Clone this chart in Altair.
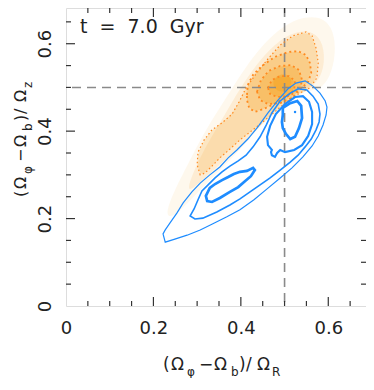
import altair as alt
import pandas as pd

FONT = "DejaVu Sans"
TXT = "#222222"
BLUE = "#1e8cff"
ORANGE_LINE = "#ff8a1e"
ORANGE_FILL = "#f6a01a"

# ---------------- values ----------------
# blue (solid) contour levels, outer -> inner
blue1_x = [0.222,0.227,0.249,0.277,0.307,0.336,0.368,0.398,0.430,0.460,0.490,0.517,0.542,0.563,0.577,0.588,0.595,0.597,0.593,0.581,0.565,0.547,0.526,0.508,0.485,0.462,0.439,0.416,0.391,0.371,0.352,0.329,0.307,0.288,0.268,0.254,0.238,0.227]
blue1_y = [0.165,0.146,0.153,0.162,0.174,0.188,0.204,0.220,0.243,0.268,0.293,0.316,0.341,0.366,0.389,0.414,0.437,0.455,0.469,0.487,0.503,0.515,0.510,0.497,0.471,0.442,0.410,0.382,0.357,0.339,0.318,0.300,0.281,0.261,0.236,0.213,0.190,0.174]

blue2_x = [0.284,0.293,0.302,0.311,0.325,0.341,0.357,0.375,0.394,0.412,0.428,0.444,0.458,0.471,0.490,0.513,0.531,0.551,0.565,0.577,0.581,0.579,0.572,0.561,0.547,0.531,0.513,0.490,0.467,0.444,0.421,0.398,0.375,0.345,0.313,0.295]
blue2_y = [0.206,0.222,0.243,0.263,0.277,0.293,0.307,0.320,0.332,0.345,0.364,0.387,0.414,0.442,0.469,0.487,0.497,0.494,0.480,0.462,0.439,0.421,0.403,0.382,0.364,0.345,0.329,0.311,0.293,0.277,0.261,0.245,0.231,0.215,0.201,0.199]

blue3_x = [0.471,0.462,0.460,0.467,0.480,0.501,0.524,0.542,0.556,0.563,0.563,0.554,0.540,0.522,0.501,0.490,0.483,0.478,0.471,0.469]
blue3_y = [0.357,0.368,0.387,0.412,0.439,0.462,0.478,0.480,0.467,0.444,0.416,0.389,0.368,0.357,0.352,0.357,0.350,0.341,0.345,0.352]

blue4a_x = [0.496,0.513,0.529,0.538,0.540,0.533,0.524,0.513,0.503,0.496,0.494,0.496]
blue4a_y = [0.453,0.464,0.469,0.458,0.430,0.407,0.387,0.382,0.394,0.407,0.421,0.437]

blue4b_x = [0.320,0.329,0.341,0.357,0.371,0.384,0.398,0.414,0.428,0.432,0.423,0.410,0.394,0.375,0.352,0.334,0.323]
blue4b_y = [0.252,0.270,0.279,0.288,0.295,0.302,0.307,0.309,0.316,0.311,0.297,0.286,0.272,0.261,0.247,0.238,0.240]

blue_peak_x = [0.524]
blue_peak_y = [0.444]

# orange (dotted) contour levels, outer -> inner
orng1_x = [0.307,0.300,0.302,0.316,0.334,0.357,0.380,0.396,0.412,0.435,0.460,0.490,0.519,0.549,0.563,0.572,0.577,0.574,0.558,0.535,0.513,0.490,0.467,0.444,0.421,0.398,0.375,0.352,0.334,0.318]
orng1_y = [0.300,0.323,0.352,0.380,0.403,0.419,0.439,0.467,0.499,0.531,0.563,0.597,0.618,0.627,0.618,0.590,0.556,0.522,0.499,0.487,0.474,0.455,0.435,0.416,0.398,0.380,0.359,0.339,0.320,0.304]

orng2_x = [0.414,0.416,0.428,0.448,0.478,0.508,0.531,0.549,0.558,0.561,0.554,0.540,0.522,0.499,0.476,0.453,0.432,0.419,0.414]
orng2_y = [0.483,0.506,0.529,0.549,0.570,0.581,0.583,0.574,0.556,0.533,0.513,0.499,0.487,0.476,0.462,0.451,0.444,0.453,0.471]

orng3_x = [0.437,0.446,0.464,0.490,0.515,0.533,0.540,0.535,0.517,0.490,0.462,0.444]
orng3_y = [0.490,0.517,0.538,0.549,0.551,0.540,0.517,0.494,0.476,0.464,0.462,0.471]

orng4_x = [0.462,0.471,0.490,0.510,0.524,0.522,0.506,0.483,0.467]
orng4_y = [0.499,0.517,0.526,0.526,0.515,0.494,0.480,0.478,0.485]

# extents of the orange density at fainter levels, and its core
haloA_x = [0.227,0.243,0.272,0.307,0.341,0.375,0.410,0.444,0.485,0.531,0.577,0.609,0.618,0.609,0.586,0.535,0.501,0.467,0.432,0.398,0.357,0.318,0.279,0.243]
haloA_y = [0.208,0.254,0.311,0.380,0.437,0.490,0.545,0.590,0.632,0.659,0.664,0.641,0.590,0.535,0.494,0.490,0.471,0.437,0.398,0.357,0.316,0.277,0.236,0.201]

haloB_x = [0.272,0.295,0.325,0.357,0.389,0.426,0.467,0.513,0.558,0.586,0.593,0.581,0.535,0.485,0.439,0.394,0.348,0.307]
haloB_y = [0.254,0.316,0.375,0.426,0.483,0.540,0.590,0.625,0.632,0.609,0.563,0.513,0.483,0.448,0.407,0.361,0.320,0.284]

core_x = [0.471,0.480,0.499,0.515,0.517,0.503,0.483]
core_y = [0.508,0.526,0.533,0.524,0.503,0.490,0.490]

minor_ticks = [0.05, 0.1, 0.15, 0.25, 0.3, 0.35, 0.45, 0.5, 0.55, 0.65]
major_ticks = [0.2, 0.4, 0.6]
label_values = [0, 0.2, 0.4, 0.6]
ref_x = [0.5]
ref_y = [0.5]
time_label = "t\u00a0\u00a0=\u00a0\u00a07.0\u00a0\u00a0Gyr"

# ---------------- chart ----------------
W, H = 300, 298
xs = alt.Scale(domain=[0, 0.6863], nice=False, zero=False)
ys = alt.Scale(domain=[0, 0.6817], nice=False, zero=False)
common_axis = dict(title=None, domain=False, ticks=False, tickSize=0, grid=False,
                   labelFontSize=18, labelFont=FONT, labelColor=TXT, labelFlush=False,
                   values=label_values, format="~g")
xaxis = alt.Axis(labelPadding=13, **common_axis)
yaxis = alt.Axis(labelPadding=16, labelAngle=270, labelAlign="center",
                 labelBaseline="alphabetic", **common_axis)


def X(field):
    return alt.X(field, type="quantitative", scale=xs, axis=xaxis)


def Y(field):
    return alt.Y(field, type="quantitative", scale=ys, axis=yaxis)


def poly(xv, yv, name):
    return pd.DataFrame({"x": xv, "y": yv, "i": list(range(len(xv))), "g": [name] * len(xv)})


def outline(df, color, width, dash=None):
    kw = dict(color=color, strokeWidth=width, interpolate="linear-closed", clip=True)
    if dash:
        kw["strokeDash"] = dash
    return alt.Chart(df).mark_line(**kw).encode(x=X("x"), y=Y("y"), order="i:Q", detail="g:N")


def fill(df, opacity):
    return alt.Chart(df).mark_line(filled=True, color=ORANGE_FILL, opacity=opacity,
                                   interpolate="basis-closed", clip=True).encode(
        x=X("x"), y=Y("y"), order="i:Q", detail="g:N")


layers = []
# density fill, faint -> strong
layers.append(fill(poly(haloA_x, haloA_y, "hA"), 0.08))
layers.append(fill(poly(haloB_x, haloB_y, "hB"), 0.12))
layers.append(fill(poly(orng1_x, orng1_y, "o1"), 0.20))
layers.append(fill(poly(orng2_x, orng2_y, "o2"), 0.25))
layers.append(fill(poly(orng3_x, orng3_y, "o3"), 0.30))
layers.append(fill(poly(orng4_x, orng4_y, "o4"), 0.35))
layers.append(fill(poly(core_x, core_y, "c"), 0.40))

# reference dashed lines
layers.append(alt.Chart(pd.DataFrame({"v": ref_x})).mark_rule(
    color="#8a8a8a", strokeWidth=1.6, strokeDash=[9, 6]).encode(x=X("v")))
layers.append(alt.Chart(pd.DataFrame({"v": ref_y})).mark_rule(
    color="#8a8a8a", strokeWidth=1.6, strokeDash=[9, 6]).encode(y=Y("v")))

# orange dotted contours
layers.append(outline(poly(orng1_x, orng1_y, "o1"), ORANGE_LINE, 1.2, [1.5, 2.5]))
layers.append(outline(poly(orng2_x, orng2_y, "o2"), ORANGE_LINE, 1.8, [2, 3]))
layers.append(outline(poly(orng3_x, orng3_y, "o3"), ORANGE_LINE, 1.8, [2, 3]))
layers.append(outline(poly(orng4_x, orng4_y, "o4"), ORANGE_LINE, 1.8, [2, 3]))

# blue contours
layers.append(outline(poly(blue1_x, blue1_y, "b1"), BLUE, 1.2))
layers.append(outline(poly(blue2_x, blue2_y, "b2"), BLUE, 1.6))
layers.append(outline(poly(blue3_x, blue3_y, "b3"), BLUE, 2.1))
layers.append(outline(pd.concat([poly(blue4a_x, blue4a_y, "b4a"), poly(blue4b_x, blue4b_y, "b4b")]), BLUE, 2.7))
layers.append(alt.Chart(pd.DataFrame({"x": blue_peak_x, "y": blue_peak_y})).mark_point(
    filled=True, color=BLUE, size=6, opacity=1).encode(x=X("x"), y=Y("y")))

# inward ticks on all four sides
tick_col = "#333333"
for vals, ln in ((minor_ticks, 5), (major_ticks, 9)):
    d = pd.DataFrame({"v": vals})
    layers.append(alt.Chart(d).mark_rule(color=tick_col, strokeWidth=1.2).encode(
        x=X("v"), y=alt.value(H), y2=alt.value(H - ln)))
    layers.append(alt.Chart(d).mark_rule(color=tick_col, strokeWidth=1.2).encode(
        x=X("v"), y=alt.value(0), y2=alt.value(ln)))
    layers.append(alt.Chart(d).mark_rule(color=tick_col, strokeWidth=1.2).encode(
        y=Y("v"), x=alt.value(0), x2=alt.value(ln)))
    layers.append(alt.Chart(d).mark_rule(color=tick_col, strokeWidth=1.2).encode(
        y=Y("v"), x=alt.value(W), x2=alt.value(W - ln)))

one = pd.DataFrame({"a": [0]})


def txt(s, x, y, size, angle=0):
    kw = dict(text=s, font=FONT, fontSize=size, color=TXT, align="left", baseline="alphabetic")
    if angle:
        kw["angle"] = angle
    return alt.Chart(one).mark_text(**kw).encode(x=alt.value(x), y=alt.value(y))


# time label
layers.append(txt(time_label, 14, 25, 19))

# x title pieces: (Ω_φ − Ω_b)/Ω_R
MAIN, SUB = 17, 12
xb, xs_b = 362, 368
for s, px, sub in [("(", 97, False), ("Ω", 105, False), ("φ", 121, True), ("−", 133, False),
                   ("Ω", 148, False), ("b", 165, True), (")", 173, False), ("/", 180, False),
                   ("Ω", 191, False), ("R", 206, True)]:
    layers.append(txt(s, px, xs_b if sub else xb, SUB if sub else MAIN))

# y title pieces (rotated)
YMAIN = 16
yb, ys_b = -40, -34
for s, py, sub in [("(", 189, False), ("Ω", 181, False), ("φ", 166, True), ("−", 154, False),
                   ("Ω", 139, False), ("b", 123, True), (")", 113, False), ("/", 106, False),
                   ("Ω", 94, False), ("z", 80, True)]:
    layers.append(txt(s, ys_b if sub else yb, py, SUB if sub else YMAIN, 270))

chart = alt.layer(*layers).properties(
    width=W, height=H,
    padding={"left": 58, "top": 0, "right": 0, "bottom": 72},
    autosize=alt.AutoSizeParams(type="none"),
).configure_view(stroke="#6e6e6e", strokeWidth=2).configure(background="white")

chart.save("out.html", embed_options={"renderer": "svg", "actions": False})
